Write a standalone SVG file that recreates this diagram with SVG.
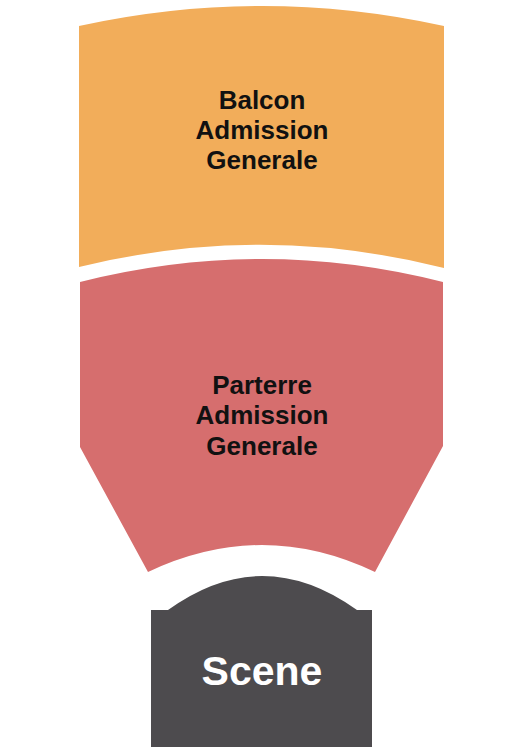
<svg xmlns="http://www.w3.org/2000/svg" width="525" height="750" viewBox="0 0 525 750">
<style>
.lbl{font-family:"Liberation Sans",Arial,sans-serif;font-weight:bold;font-size:26px;fill:#111;text-anchor:middle}
.stage{font-family:"Liberation Sans",Arial,sans-serif;font-weight:bold;font-size:41px;fill:#fff;text-anchor:middle}
</style>
<rect width="525" height="750" fill="#fff"/>
<g id="balcon">
<path d="M79,26 Q262,-14 444,26 L444,268 Q262,222 79,267 Z" fill="#F2AD5A"/>
<text class="lbl" x="262" y="109">Balcon</text>
<text class="lbl" x="262" y="139">Admission</text>
<text class="lbl" x="262" y="169">Generale</text>
</g>
<g id="parterre">
<path d="M80,282 Q262,236 443,282 L443,446 L375,572 Q262,518 148,572 L80,447 Z" fill="#D66E6E"/>
<text class="lbl" x="262" y="394">Parterre</text>
<text class="lbl" x="262" y="424">Admission</text>
<text class="lbl" x="262" y="455">Generale</text>
</g>
<g id="scene">
<path d="M151,610 L168,610 Q262,542 357,610 L372,610 L372,747 L151,747 Z" fill="#4D4B4E"/>
<text class="stage" x="262" y="685">Scene</text>
</g>
<g id="connectors"/>
</svg>
